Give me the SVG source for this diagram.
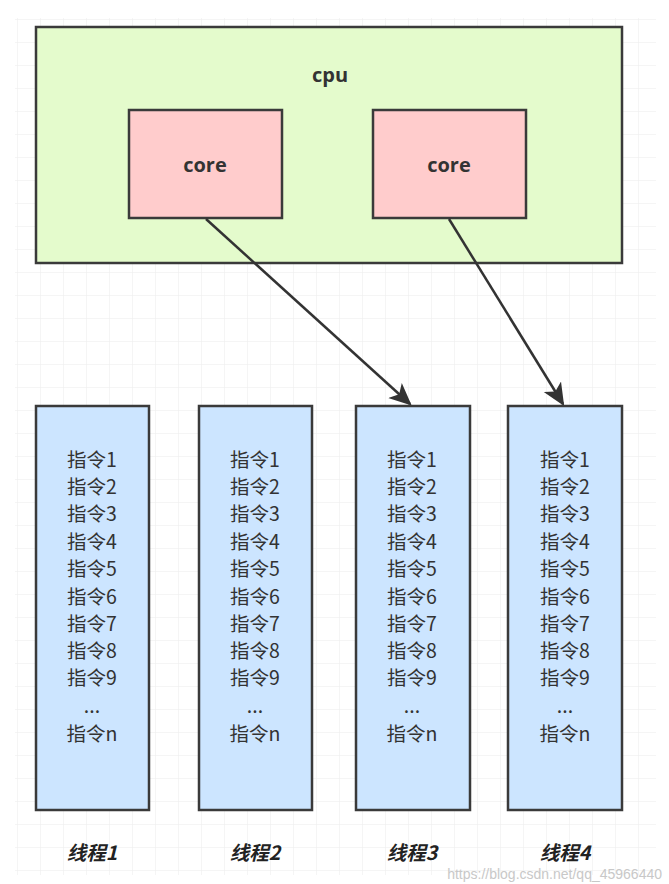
<svg xmlns="http://www.w3.org/2000/svg" width="669" height="884" viewBox="0 0 669 884">
<defs>
<pattern id="grid" x="17" y="19" width="23" height="23" patternUnits="userSpaceOnUse">
<path d="M23 0H0V23" fill="none" stroke="#ececec" stroke-width="1"/>
</pattern>
<marker id="arr" viewBox="0 0 10 10" refX="9" refY="5" markerWidth="9" markerHeight="9" markerUnits="strokeWidth" orient="auto">
<path d="M0 0.5L10 5L0 9.5L2.5 5Z" fill="#333"/>
</marker>
<style>
.box{stroke:#3a3a3a;stroke-width:2.5}
.cpu{fill:#e4fbcc}
.core{fill:#ffcccc}
.th{fill:#cce5ff}
.bt{font-family:"Open Sans","Noto Sans CJK SC",sans-serif;font-weight:bold;font-size:20px;fill:#333;text-anchor:middle}
.ins{font-family:"Noto Sans CJK SC","Noto Sans",sans-serif;font-size:19.5px;fill:#333;text-anchor:middle}
.lab{font-family:"Noto Sans CJK SC",sans-serif;font-weight:bold;font-style:italic;font-size:19.5px;fill:#222;text-anchor:middle}
.con{stroke:#333;stroke-width:2.5;fill:none}
</style>
</defs>
<rect x="0" y="0" width="669" height="884" fill="#fff"/>
<rect x="15" y="18" width="641" height="857" fill="url(#grid)"/>
<g id="cpu">
<rect class="box cpu" x="36" y="27" width="586" height="236"/>
<text class="bt" x="330" y="82">cpu</text>
</g>
<g id="core1">
<rect class="box core" x="129" y="110" width="153" height="108"/>
<text class="bt" x="205" y="172">core</text>
</g>
<g id="core2">
<rect class="box core" x="373" y="110" width="153" height="108"/>
<text class="bt" x="449" y="172">core</text>
</g>
<g id="connectors">
<line class="con" x1="206" y1="219" x2="410" y2="404" marker-end="url(#arr)"/>
<line class="con" x1="449" y1="219" x2="563" y2="404" marker-end="url(#arr)"/>
</g>
<g id="thread1">
<rect class="box th" x="36" y="406" width="113" height="404"/>
<text class="ins" x="92"><tspan x="92" y="467">指令1</tspan><tspan x="92" y="494">指令2</tspan><tspan x="92" y="521">指令3</tspan><tspan x="92" y="549">指令4</tspan><tspan x="92" y="576">指令5</tspan><tspan x="92" y="604">指令6</tspan><tspan x="92" y="631">指令7</tspan><tspan x="92" y="658">指令8</tspan><tspan x="92" y="685">指令9</tspan><tspan x="92" y="713">...</tspan><tspan x="92" y="741">指令n</tspan></text>
<text class="lab" x="92" y="860">线程1</text>
</g>
<g id="thread2">
<rect class="box th" x="199" y="406" width="113" height="404"/>
<text class="ins" x="255"><tspan x="255" y="467">指令1</tspan><tspan x="255" y="494">指令2</tspan><tspan x="255" y="521">指令3</tspan><tspan x="255" y="549">指令4</tspan><tspan x="255" y="576">指令5</tspan><tspan x="255" y="604">指令6</tspan><tspan x="255" y="631">指令7</tspan><tspan x="255" y="658">指令8</tspan><tspan x="255" y="685">指令9</tspan><tspan x="255" y="713">...</tspan><tspan x="255" y="741">指令n</tspan></text>
<text class="lab" x="255" y="860">线程2</text>
</g>
<g id="thread3">
<rect class="box th" x="356" y="406" width="114" height="404"/>
<text class="ins" x="412"><tspan x="412" y="467">指令1</tspan><tspan x="412" y="494">指令2</tspan><tspan x="412" y="521">指令3</tspan><tspan x="412" y="549">指令4</tspan><tspan x="412" y="576">指令5</tspan><tspan x="412" y="604">指令6</tspan><tspan x="412" y="631">指令7</tspan><tspan x="412" y="658">指令8</tspan><tspan x="412" y="685">指令9</tspan><tspan x="412" y="713">...</tspan><tspan x="412" y="741">指令n</tspan></text>
<text class="lab" x="412" y="860">线程3</text>
</g>
<g id="thread4">
<rect class="box th" x="508" y="406" width="114" height="404"/>
<text class="ins" x="565"><tspan x="565" y="467">指令1</tspan><tspan x="565" y="494">指令2</tspan><tspan x="565" y="521">指令3</tspan><tspan x="565" y="549">指令4</tspan><tspan x="565" y="576">指令5</tspan><tspan x="565" y="604">指令6</tspan><tspan x="565" y="631">指令7</tspan><tspan x="565" y="658">指令8</tspan><tspan x="565" y="685">指令9</tspan><tspan x="565" y="713">...</tspan><tspan x="565" y="741">指令n</tspan></text>
<text class="lab" x="565" y="860">线程4</text>
</g>
<text x="662" y="879" font-family="Liberation Sans, sans-serif" font-size="14" fill="#c8c8c8" text-anchor="end">https://blog.csdn.net/qq_45966440</text>
</svg>
